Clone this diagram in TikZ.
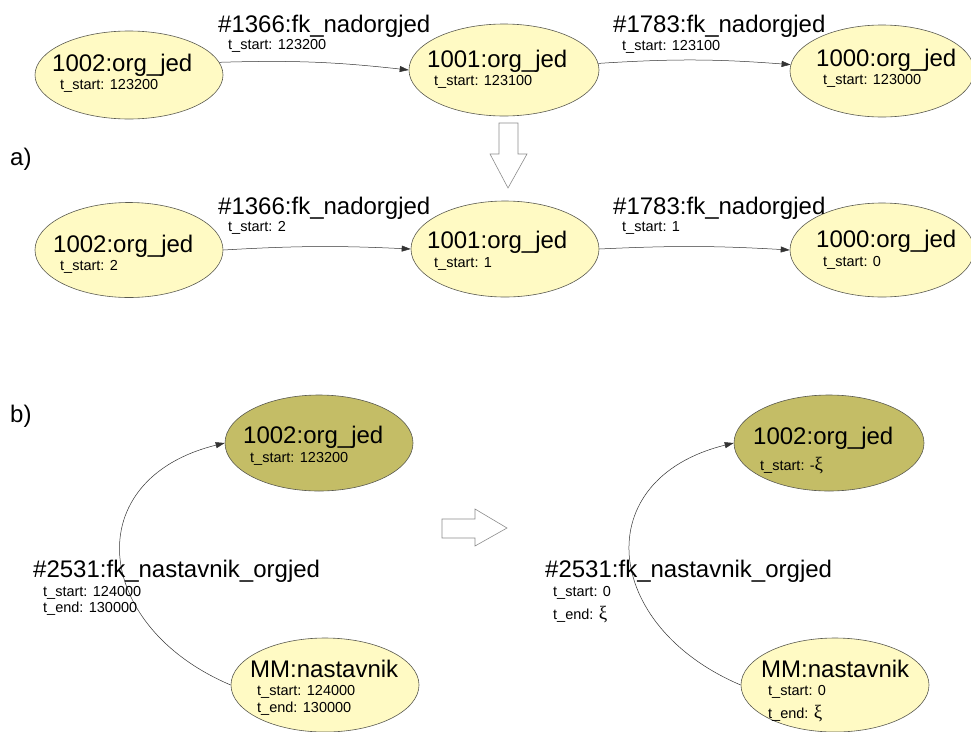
\documentclass[tikz,border=0pt]{standalone}
\usepackage{fontspec}
\setmainfont{Liberation Sans}
\newfontfamily\grk{Liberation Serif}
\usetikzlibrary{shapes.geometric,arrows.meta}
\definecolor{lightent}{RGB}{255,250,196}
\definecolor{darkent}{RGB}{196,189,102}
\definecolor{rim}{RGB}{90,90,80}
\newcommand{\bigtxt}{\fontsize{24}{28}\selectfont}
\newcommand{\smalltxt}{\fontsize{14.5}{17}\selectfont}
\newcommand{\grkxi}{{\grk\fontsize{19}{20}\selectfont ξ}}
\begin{document}
\begin{tikzpicture}[x=1pt,y=-1pt,
  entity/.style={ellipse,draw=rim,line width=0.6pt,fill=lightent,inner sep=0pt},
  darkentity/.style={entity,fill=darkent},
  title/.style={anchor=base west,inner sep=0pt,font=\bigtxt},
  attr/.style={anchor=base west,inner sep=0pt,font=\smalltxt},
  link/.style={draw=black!80,line width=0.5pt,-{Triangle[length=9pt,width=6pt]}},
  blockarrow/.style={draw=black!45,line width=0.6pt,fill=white}]
\useasboundingbox (0,0) rectangle (971,731);

% ---------- a) upper chain ----------
\node[entity,minimum width=188pt,minimum height=88pt] (u2) at (129,75) {};
\node[entity,minimum width=190pt,minimum height=92pt] (u1) at (504,70) {};
\node[entity,minimum width=184pt,minimum height=92pt] (u0) at (882,71) {};
\node[title] (u2t) at (52,71) {1002:org\_jed};
\node[attr]  (u2s) at (60,89) {t\_start: 123200};
\node[title] (u1t) at (427,67) {1001:org\_jed};
\node[attr]  (u1s) at (434,85) {t\_start: 123100};
\node[title] (u0t) at (816,66) {1000:org\_jed};
\node[attr]  (u0s) at (823,84) {t\_start: 123000};
\draw[link] (u2.8) to[bend left=4] (u1.west);
\draw[link] (u1.4) to[bend left=4] (u0.176);
\node[title] (ue1) at (218,32) {\#1366:fk\_nadorgjed};
\node[attr]  (ue1s) at (228,49) {t\_start: 123200};
\node[title] (ue2) at (613,32) {\#1783:fk\_nadorgjed};
\node[attr]  (ue2s) at (622,50) {t\_start: 123100};

% transformation arrow
\node[title] (la) at (10,165) {a)};
\draw[blockarrow] (499,123) -- (518,123) -- (518,154) -- (527,154) -- (508,188)
  -- (490,154) -- (499,154) -- cycle;

% ---------- a) lower chain ----------
\node[entity,minimum width=188pt,minimum height=95pt] (l2) at (129,250) {};
\node[entity,minimum width=188pt,minimum height=96pt] (l1) at (505,249) {};
\node[entity,minimum width=184pt,minimum height=94pt] (l0) at (882,250) {};
\node[title] (l2t) at (53,252) {1002:org\_jed};
\node[attr]  (l2s) at (60,270) {t\_start: 2};
\node[title] (l1t) at (427,248) {1001:org\_jed};
\node[attr]  (l1s) at (434,267) {t\_start: 1};
\node[title] (l0t) at (816,247) {1000:org\_jed};
\node[attr]  (l0s) at (823,266) {t\_start: 0};
\draw[link] (l2.east) to[bend left=3] (l1.west);
\draw[link] (l1.east) to[bend left=3] (l0.west);
\node[title] (le1) at (218,214) {\#1366:fk\_nadorgjed};
\node[attr]  (le1s) at (228,231) {t\_start: 2};
\node[title] (le2) at (613,214) {\#1783:fk\_nadorgjed};
\node[attr]  (le2s) at (622,231) {t\_start: 1};

% ---------- b) left ----------
\node[title] (lb) at (10,422) {b)};
\node[darkentity,minimum width=188pt,minimum height=96pt] (bo) at (319,443) {};
\node[entity,minimum width=188pt,minimum height=94pt] (bm) at (325,685) {};
\node[title] (bot) at (243,443) {1002:org\_jed};
\node[attr]  (bos) at (250,462) {t\_start: 123200};
\node[title] (bmt) at (250,677) {MM:nastavnik};
\node[attr]  (bms) at (257,695) {t\_start: 124000};
\node[attr]  (bme) at (257,712) {t\_end: 130000};
\draw[link] (bm.west) .. controls +(-139,-59) and +(-146,36) .. (bo.west);
\node[title] (be) at (33,577) {\#2531:fk\_nastavnik\_orgjed};
\node[attr]  (bes) at (43,596) {t\_start: 124000};
\node[attr]  (bee) at (43,612) {t\_end: 130000};

% transformation arrow
\draw[blockarrow] (442,519) -- (475,519) -- (475,509) -- (507,528) -- (475,546)
  -- (475,538) -- (442,538) -- cycle;

% ---------- b) right ----------
\node[darkentity,minimum width=190pt,minimum height=96pt] (co) at (829,443) {};
\node[entity,minimum width=188pt,minimum height=94pt] (cm) at (835,685) {};
\node[title] (cot) at (753,444) {1002:org\_jed};
\node[attr]  (cos) at (760,470) {t\_start: -\grkxi};
\node[title] (cmt) at (761,677) {MM:nastavnik};
\node[attr]  (cms) at (768,695) {t\_start: 0};
\node[attr]  (cme) at (768,718) {t\_end: \grkxi};
\draw[link] (cm.west) .. controls +(-139,-59) and +(-146,36) .. (co.west);
\node[title] (ce) at (545,577) {\#2531:fk\_nastavnik\_orgjed};
\node[attr]  (ces) at (553,596) {t\_start: 0};
\node[attr]  (cee) at (553,619) {t\_end: \grkxi};
\end{tikzpicture}
\end{document}
